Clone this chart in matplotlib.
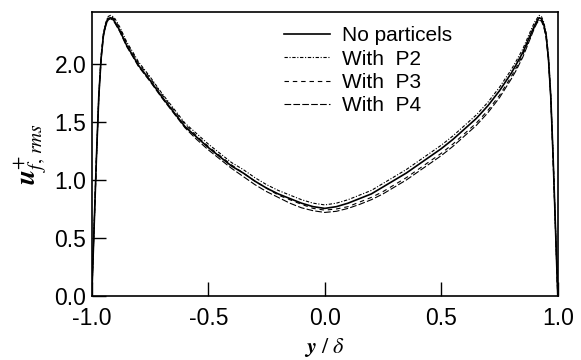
import matplotlib.pyplot as plt

plt.rcParams['font.family'] = ['Liberation Sans', 'DejaVu Sans']
plt.rcParams['mathtext.fontset'] = 'stix'

# wall-normal position y/delta
y_pos = [-1.0, -0.99, -0.98, -0.97, -0.96, -0.95, -0.94, -0.93, -0.92, -0.91,
         -0.90, -0.88, -0.85, -0.82, -0.80, -0.75, -0.70, -0.65, -0.60, -0.55,
         -0.50, -0.45, -0.40, -0.35, -0.30, -0.25, -0.20, -0.15, -0.10, -0.05,
         0.0,
         0.05, 0.10, 0.15, 0.20, 0.25, 0.30, 0.35, 0.40, 0.45, 0.50,
         0.55, 0.60, 0.65, 0.70, 0.75, 0.80, 0.82, 0.85, 0.88, 0.90,
         0.91, 0.92, 0.93, 0.94, 0.95, 0.96, 0.97, 0.98, 0.99, 1.0]

no_particles = [0.0, 0.60, 1.20, 1.72, 2.05, 2.25, 2.34, 2.39, 2.40, 2.39,
                2.36, 2.29, 2.16, 2.06, 1.99, 1.86, 1.72, 1.59, 1.46, 1.37,
                1.28, 1.20, 1.12, 1.06, 0.99, 0.93, 0.88, 0.84, 0.80, 0.77,
                0.755,
                0.77, 0.80, 0.84, 0.88, 0.94, 1.00, 1.06, 1.13, 1.20, 1.27,
                1.35, 1.44, 1.53, 1.64, 1.77, 1.92, 1.99, 2.10, 2.24, 2.33,
                2.37, 2.40, 2.39, 2.34, 2.25, 2.05, 1.72, 1.20, 0.60, 0.0]
with_p2 = [0.0, 0.60, 1.20, 1.73, 2.07, 2.27, 2.36, 2.41, 2.42, 2.41,
           2.39, 2.32, 2.19, 2.09, 2.02, 1.89, 1.75, 1.62, 1.49, 1.40,
           1.31, 1.23, 1.15, 1.09, 1.02, 0.96, 0.91, 0.87, 0.83, 0.80,
           0.785,
           0.80, 0.83, 0.87, 0.91, 0.97, 1.03, 1.09, 1.16, 1.23, 1.30,
           1.38, 1.47, 1.56, 1.67, 1.80, 1.95, 2.02, 2.13, 2.27, 2.36,
           2.39, 2.42, 2.41, 2.36, 2.27, 2.07, 1.73, 1.21, 0.60, 0.0]
with_p3 = [0.0, 0.60, 1.20, 1.72, 2.06, 2.26, 2.35, 2.40, 2.41, 2.40,
           2.38, 2.31, 2.18, 2.08, 2.01, 1.88, 1.74, 1.61, 1.48, 1.38,
           1.29, 1.21, 1.13, 1.06, 0.99, 0.93, 0.87, 0.83, 0.79, 0.755,
           0.74,
           0.75, 0.77, 0.81, 0.85, 0.90, 0.96, 1.02, 1.09, 1.16, 1.23,
           1.31, 1.40, 1.49, 1.60, 1.73, 1.89, 1.96, 2.08, 2.22, 2.32,
           2.36, 2.39, 2.38, 2.33, 2.24, 2.04, 1.71, 1.19, 0.60, 0.0]
with_p4 = [0.0, 0.59, 1.19, 1.71, 2.04, 2.24, 2.33, 2.38, 2.39, 2.38,
           2.35, 2.28, 2.15, 2.05, 1.98, 1.85, 1.71, 1.58, 1.45, 1.35,
           1.26, 1.18, 1.10, 1.03, 0.96, 0.90, 0.85, 0.80, 0.76, 0.735,
           0.72,
           0.73, 0.755, 0.79, 0.83, 0.88, 0.94, 1.00, 1.07, 1.14, 1.21,
           1.29, 1.38, 1.47, 1.58, 1.71, 1.87, 1.94, 2.06, 2.21, 2.31,
           2.35, 2.38, 2.37, 2.32, 2.23, 2.03, 1.70, 1.18, 0.59, 0.0]

x_ticks = [-1.0, -0.5, 0.0, 0.5, 1.0]
y_ticks = [0.0, 0.5, 1.0, 1.5, 2.0]

fig = plt.figure(figsize=(5.81, 3.6), dpi=100)
ax = fig.add_axes([0.158, 0.178, 0.802, 0.789])

ax.plot(y_pos, no_particles, color='black', lw=1.2, linestyle='-', label='No particels')
ax.plot(y_pos, with_p2, color='black', lw=0.8, linestyle=(0, (3, 1.5, 1, 1.5)), label='With  P2')
ax.plot(y_pos, with_p3, color='black', lw=0.8, linestyle=(0, (4, 3.5)), label='With  P3')
ax.plot(y_pos, with_p4, color='black', lw=0.8, linestyle=(0, (6, 2)), label='With  P4')

ax.set_xlim(-1.0, 1.0)
ax.set_ylim(0.0, 2.45)
ax.set_xticks(x_ticks)
ax.set_yticks(y_ticks)
ax.set_xticklabels(['%.1f' % v for v in x_ticks])
ax.set_yticklabels(['%.1f' % v for v in y_ticks])
ax.tick_params(direction='in', length=10, width=1, labelsize=16.5)
ax.tick_params(axis='x', pad=8)
ax.tick_params(axis='y', pad=4)
ax.tick_params(top=False, right=False)
for s in ax.spines.values():
    s.set_linewidth(1.2)

ax.set_xlabel(r'$\boldsymbol{y}\ /\ \delta$', fontsize=16, labelpad=4)
ax.set_ylabel(r'$\boldsymbol{u}^{+}_{\mathit{f,\,rms}}$', fontsize=20, labelpad=4)

ax.legend(loc='upper left', bbox_to_anchor=(0.382, 1.0), frameon=False,
          fontsize=15, handlelength=2.2, handletextpad=0.55, labelspacing=0.2,
          borderaxespad=0.3)

fig.savefig('out.png', dpi=100)
